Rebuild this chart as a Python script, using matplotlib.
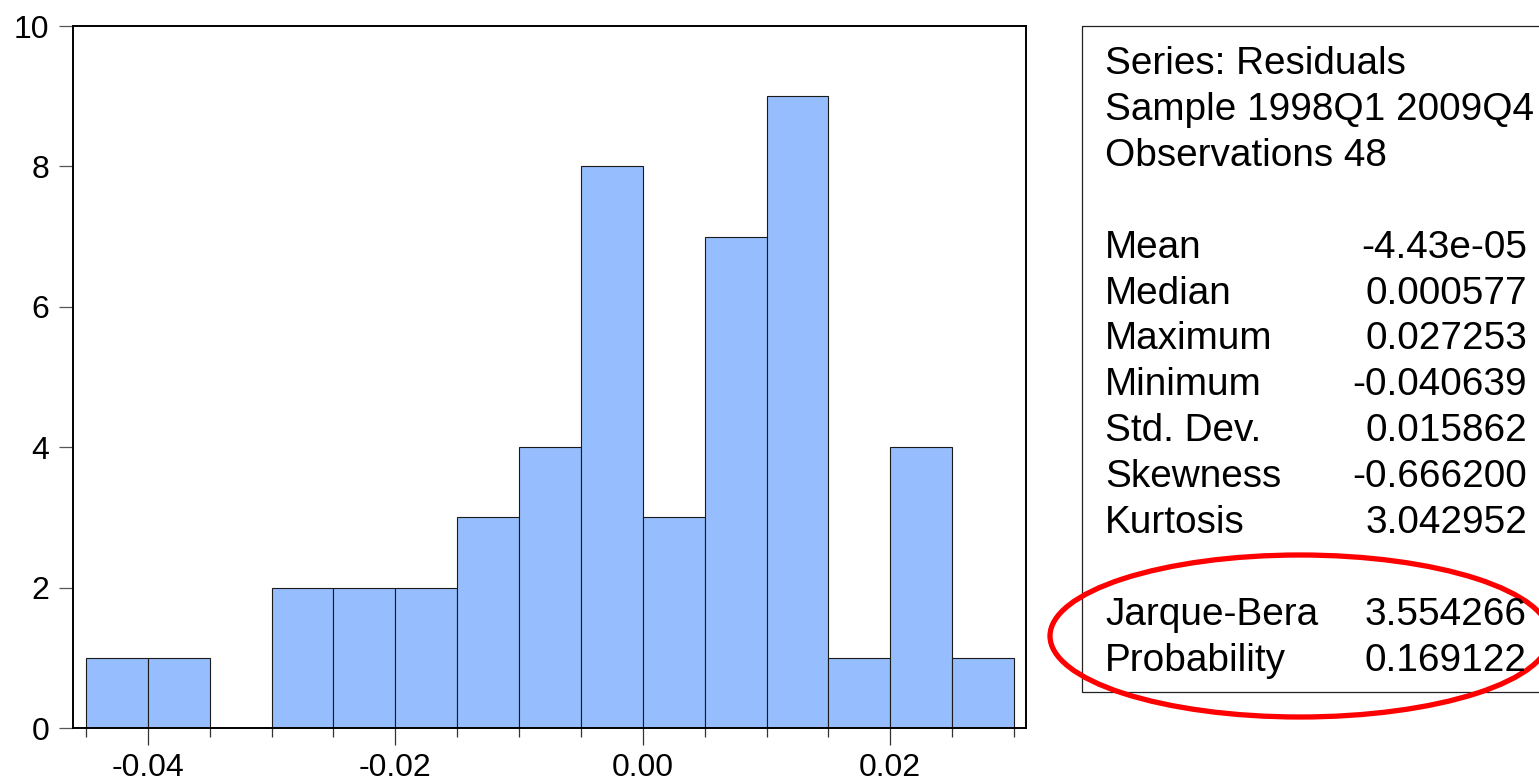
import matplotlib
matplotlib.use("Agg")
import matplotlib.pyplot as plt
from matplotlib.patches import Rectangle, Ellipse

# Histogram data (residuals, bin width 0.005)
bin_lefts = [-0.045, -0.040, -0.035, -0.030, -0.025, -0.020, -0.015, -0.010,
             -0.005, 0.000, 0.005, 0.010, 0.015, 0.020, 0.025]
counts = [1, 1, 0, 2, 2, 2, 3, 4, 8, 3, 7, 9, 1, 4, 1]
bin_width = 0.005

major_ticks = [-0.04, -0.02, 0.00, 0.02]
major_labels = ["-0.04", "-0.02", "0.00", "0.02"]
y_ticks = [0, 2, 4, 6, 8, 10]

# Summary statistics panel
header_lines = ["Series: Residuals", "Sample 1998Q1 2009Q4", "Observations 48"]
stat_names = ["Mean", "Median", "Maximum", "Minimum", "Std. Dev.", "Skewness", "Kurtosis"]
stat_values = ["-4.43e-05", "0.000577", "0.027253", "-0.040639", "0.015862", "-0.666200", "3.042952"]
test_names = ["Jarque-Bera", "Probability"]
test_values = ["3.554266", "0.169122"]

plt.rcParams['font.family'] = ['Liberation Sans', 'DejaVu Sans']

W, H = 1539, 780
fig = plt.figure(figsize=(W / 100, H / 100), dpi=100)

# main histogram axes
ax = fig.add_axes([73 / W, 1 - 728 / H, (1026 - 73) / W, (728 - 26) / H])
ax.bar(bin_lefts, counts, width=bin_width, align='edge',
       color='#96BDFD', edgecolor='#1a1a1a', linewidth=0.8)
ax.set_xlim(-0.04605, 0.03097)
ax.set_ylim(0, 10)

edges = bin_lefts + [bin_lefts[-1] + bin_width]
ax.set_xticks(major_ticks)
ax.set_xticklabels(major_labels)
ax.set_xticks(edges, minor=True)
ax.set_yticks(y_ticks)
ax.tick_params(axis='x', which='major', direction='out', length=12, width=0.9,
               color='#333333', labelsize=23, pad=6)
ax.tick_params(axis='x', which='minor', direction='out', length=6.5, width=0.9,
               color='#333333')
ax.tick_params(axis='y', direction='out', length=10, width=0.9,
               color='#555555', labelsize=23, pad=7)
for sp in ax.spines.values():
    sp.set_linewidth(1.4)
    sp.set_color('black')

# overlay in pixel coordinates for the stats box
ov = fig.add_axes([0, 0, 1, 1])
ov.set_xlim(0, W)
ov.set_ylim(H, 0)
ov.axis('off')

ov.add_patch(Rectangle((1082, 26), 1545 - 1082, 692 - 26, fill=False,
                       edgecolor='#222222', linewidth=0.9))

fs = 27.9
x_lab, x_val = 1105, 1527
base0, step = 74, 45.9

row = 0
for line in header_lines:
    ov.text(x_lab, base0 + step * row, line, fontsize=fs, va='baseline', ha='left')
    row += 1
row += 1
for name, val in zip(stat_names, stat_values):
    y = base0 + step * row
    ov.text(x_lab, y, name, fontsize=fs, va='baseline', ha='left')
    ov.text(x_val, y, val, fontsize=fs, va='baseline', ha='right')
    row += 1
row += 1
for name, val in zip(test_names, test_values):
    y = base0 + step * row
    ov.text(x_lab, y, name, fontsize=fs, va='baseline', ha='left')
    ov.text(x_val, y, val, fontsize=fs, va='baseline', ha='right')
    row += 1

# red highlight ellipse around the normality test
ov.add_patch(Ellipse((1300, 636), 500, 162, fill=False, edgecolor='#FF0000',
                     linewidth=3.8))

fig.savefig('out.png', dpi=100)
